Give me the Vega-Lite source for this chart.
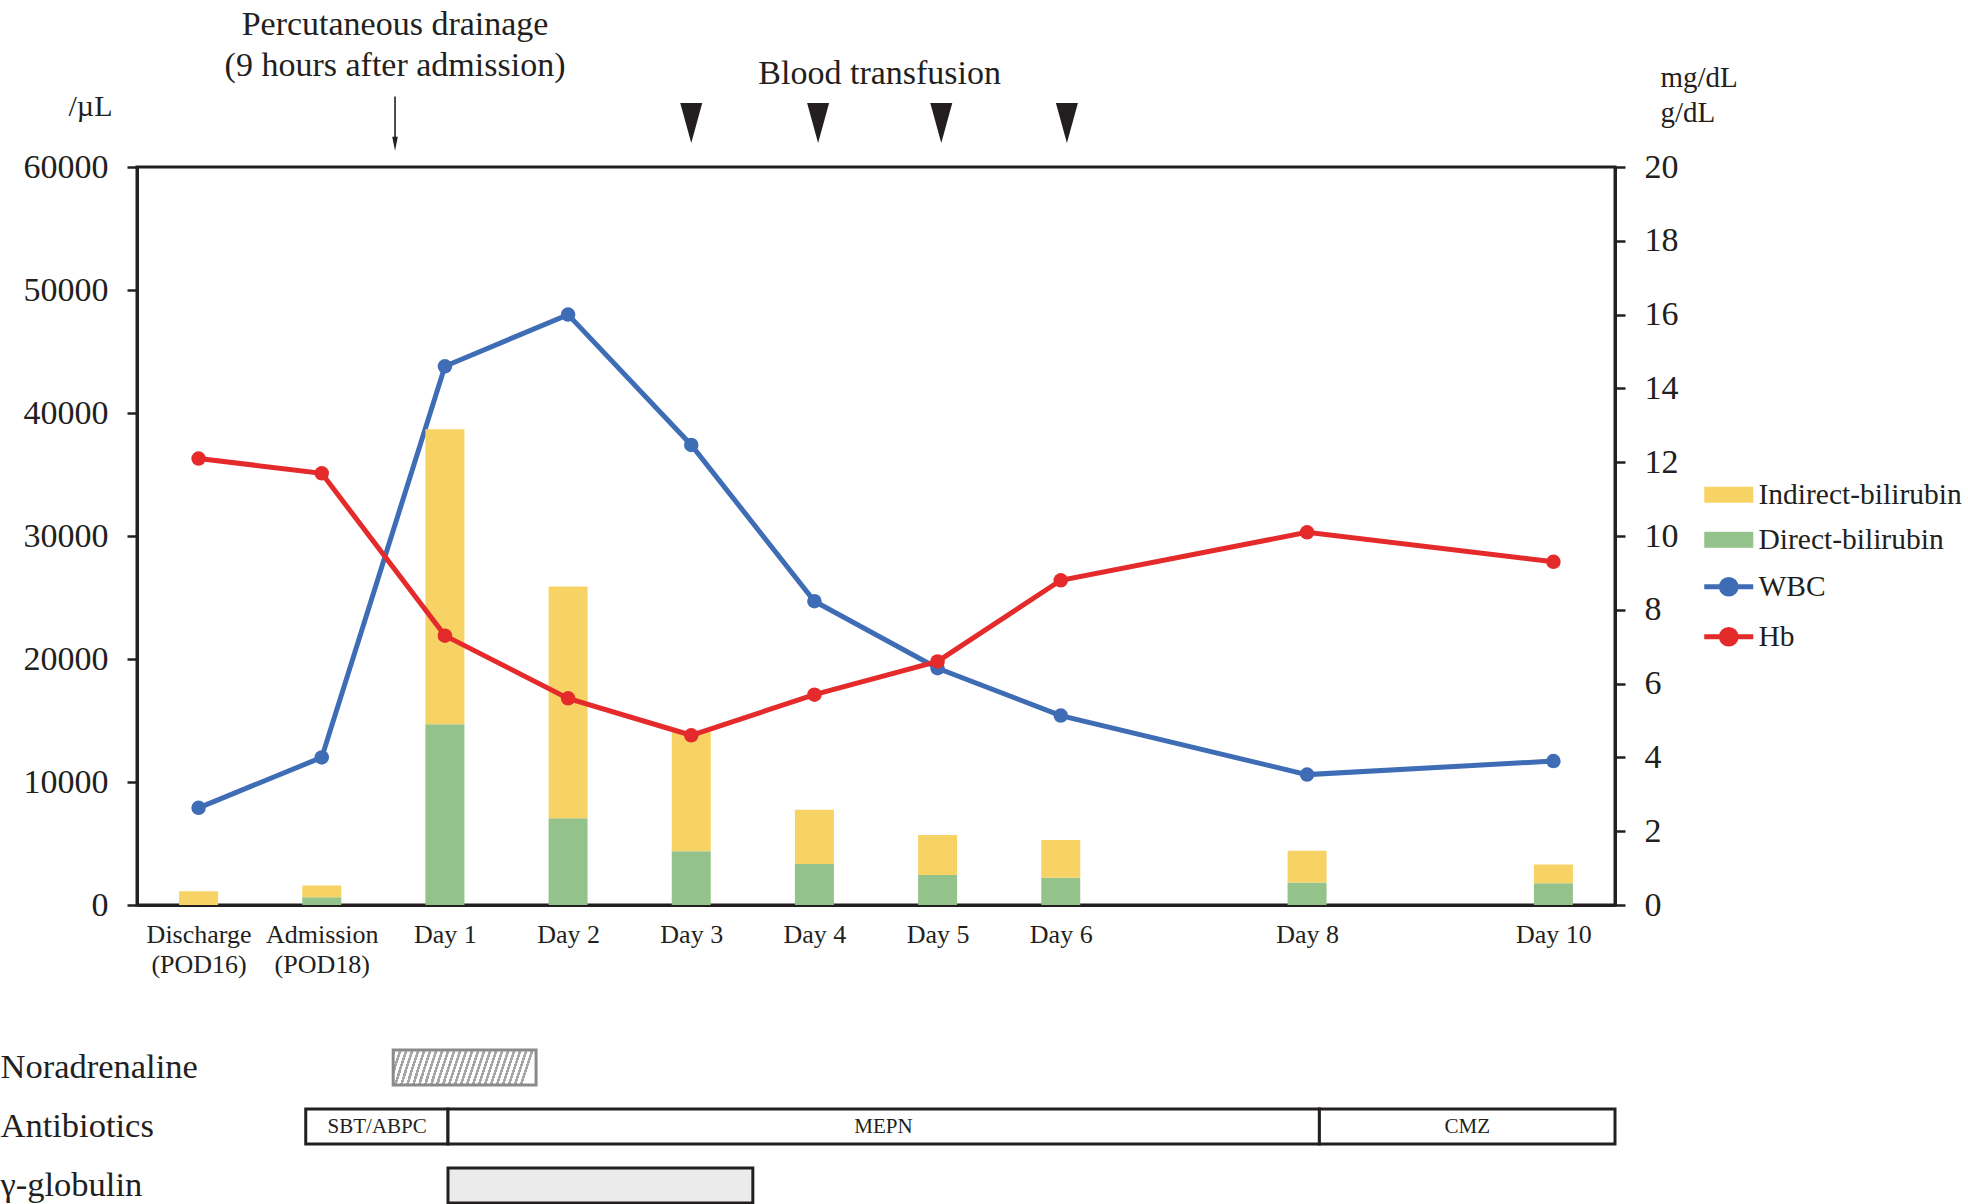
{
  "$schema": "https://vega.github.io/schema/vega-lite/v6.json",
  "padding": {"left": 0, "top": 6, "right": 0, "bottom": 0},
  "background": "white",
  "config": {
    "font": "Liberation Serif",
    "view": {"stroke": "#231f20", "strokeWidth": 3},
    "axis": {"labelFont": "Liberation Serif", "titleFont": "Liberation Serif", "labelColor": "#231f20", "titleColor": "#231f20", "domainColor": "#231f20", "tickColor": "#231f20", "grid": false, "labelLimit": 400, "titleFontWeight": "normal"},
    "text": {"font": "Liberation Serif", "color": "#231f20"}
  },
  "datasets": {
    "labs": [
      {"day": -1, "WBC": 7900, "Hb": 12.1},
      {"day": 0, "WBC": 12000, "Hb": 11.7},
      {"day": 1, "WBC": 43800, "Hb": 7.3},
      {"day": 2, "WBC": 48000, "Hb": 5.6},
      {"day": 3, "WBC": 37400, "Hb": 4.6},
      {"day": 4, "WBC": 24700, "Hb": 5.7},
      {"day": 5, "WBC": 19250, "Hb": 6.6},
      {"day": 6, "WBC": 15400, "Hb": 8.8},
      {"day": 8, "WBC": 10600, "Hb": 10.1},
      {"day": 10, "WBC": 11700, "Hb": 9.3}
    ],
    "bilirubin": [
      {"day": -1, "type": "Direct-bilirubin", "mg": 0},
      {"day": -1, "type": "Indirect-bilirubin", "mg": 0.37},
      {"day": 0, "type": "Direct-bilirubin", "mg": 0.21},
      {"day": 0, "type": "Indirect-bilirubin", "mg": 0.32},
      {"day": 1, "type": "Direct-bilirubin", "mg": 4.9},
      {"day": 1, "type": "Indirect-bilirubin", "mg": 7.99},
      {"day": 2, "type": "Direct-bilirubin", "mg": 2.35},
      {"day": 2, "type": "Indirect-bilirubin", "mg": 6.28},
      {"day": 3, "type": "Direct-bilirubin", "mg": 1.46},
      {"day": 3, "type": "Indirect-bilirubin", "mg": 3.24},
      {"day": 4, "type": "Direct-bilirubin", "mg": 1.11},
      {"day": 4, "type": "Indirect-bilirubin", "mg": 1.47},
      {"day": 5, "type": "Direct-bilirubin", "mg": 0.81},
      {"day": 5, "type": "Indirect-bilirubin", "mg": 1.09},
      {"day": 6, "type": "Direct-bilirubin", "mg": 0.74},
      {"day": 6, "type": "Indirect-bilirubin", "mg": 1.02},
      {"day": 8, "type": "Direct-bilirubin", "mg": 0.61},
      {"day": 8, "type": "Indirect-bilirubin", "mg": 0.86},
      {"day": 10, "type": "Direct-bilirubin", "mg": 0.59},
      {"day": 10, "type": "Indirect-bilirubin", "mg": 0.51}
    ],
    "transfusion": [{"day": 3}, {"day": 4.03}, {"day": 5.03}, {"day": 6.05}],
    "drainage": [{"day": 0.595, "line1": "Percutaneous drainage", "line2": "(9 hours after admission)"}],
    "transfusionNote": [{"day": 4.53, "note": "Blood transfusion"}],
    "therapy": [
      {"row": "Noradrenaline", "start": 0.58, "end": 1.74},
      {"row": "Antibiotics", "start": -0.13, "end": 1.025, "label": "SBT/ABPC", "mid": 0.45},
      {"row": "Antibiotics", "start": 1.025, "end": 8.1, "label": "MEPN", "mid": 4.56},
      {"row": "Antibiotics", "start": 8.1, "end": 10.5, "label": "CMZ", "mid": 9.3},
      {"row": "γ-globulin", "start": 1.025, "end": 3.5}
    ]
  },
  "bounds": "flush",
  "spacing": 133,
  "vconcat": [
    {
      "width": 1478,
      "height": 738,
      "encoding": {
        "x": {
          "field": "day", "type": "quantitative",
          "scale": {"domain": [-1.5, 10.5], "nice": false, "zero": false, "padding": 0},
          "axis": {
            "values": [-1, 0, 1, 2, 3, 4, 5, 6, 8, 10],
            "labelExpr": "datum.value == -1 ? ['Discharge', '(POD16)'] : datum.value == 0 ? ['Admission', '(POD18)'] : 'Day ' + datum.value",
            "ticks": false, "domainWidth": 3, "labelFontSize": 26, "labelPadding": 16, "labelLineHeight": 30,
            "title": null, "labelFlush": false, "labelOverlap": false, "labelBaseline": "top"
          }
        }
      },
      "layer": [
        {
          "data": {"name": "labs"},
          "encoding": {
            "y": {
              "field": "WBC", "type": "quantitative",
              "scale": {"domain": [0, 60000], "nice": false},
              "axis": {
                "orient": "left", "values": [0, 10000, 20000, 30000, 40000, 50000, 60000], "format": "d",
                "labelFontSize": 34, "tickSize": 10, "tickWidth": 2.5, "domainWidth": 3, "labelPadding": 19,
                "title": "/µL", "titleAngle": 0, "titleAlign": "center", "titleBaseline": "alphabetic",
                "titleX": -47, "titleY": -52, "titleFontSize": 30
              }
            },
            "color": {
              "datum": "WBC",
              "scale": {"domain": ["Indirect-bilirubin", "Direct-bilirubin", "WBC", "Hb"], "range": ["#F7D366", "#94C28B", "#3E6DB5", "#E42A2A"]}
            }
          },
          "layer": [
            {"mark": {"type": "line", "strokeWidth": 5}},
            {"mark": {"type": "point", "filled": true, "size": 210, "opacity": 1}}
          ]
        },
        {
          "layer": [
            {
              "data": {"name": "bilirubin"},
              "mark": {"type": "bar", "size": 39},
              "encoding": {
                "y": {
                  "field": "mg", "type": "quantitative", "stack": "zero",
                  "scale": {"domain": [0, 20], "nice": false},
                  "axis": {
                    "orient": "right", "values": [0, 2, 4, 6, 8, 10, 12, 14, 16, 18, 20],
                    "labelFontSize": 34, "tickSize": 10, "tickWidth": 2.5, "domainWidth": 3, "labelPadding": 19,
                    "title": ["mg/dL", "g/dL"], "titleAngle": 0, "titleAlign": "left", "titleBaseline": "alphabetic",
                    "titleX": 45, "titleY": -81, "titleFontSize": 29, "titleLineHeight": 35
                  }
                },
                "color": {
                  "field": "type", "type": "nominal",
                  "scale": {"domain": ["Indirect-bilirubin", "Direct-bilirubin", "WBC", "Hb"], "range": ["#F7D366", "#94C28B", "#3E6DB5", "#E42A2A"]},
                  "legend": {
                    "orient": "none", "legendX": 1577, "legendY": 313, "title": null,
                    "labelFontSize": 29.5, "labelFont": "Liberation Serif", "labelColor": "#231f20", "labelLimit": 400,
                    "symbolSize": 2401, "labelOffset": 15, "rowPadding": 14, "padding": 0,
                    "symbolType": "M-1,-0.33H1V0.33H-1Z",
                    "encoding": {
                      "symbols": {
                        "shape": {"value": {"expr": "datum.value == 'WBC' || datum.value == 'Hb' ? 'M-1,0H1M0.3,0A0.3,0.3 0 1,1 -0.3,0A0.3,0.3 0 1,1 0.3,0Z' : 'M-1,-0.33H1V0.33H-1Z'"}},
                        "fill": {"value": {"expr": "datum.value == 'Indirect-bilirubin' ? '#F7D366' : datum.value == 'Direct-bilirubin' ? '#94C28B' : datum.value == 'WBC' ? '#3E6DB5' : '#E42A2A'"}},
                        "stroke": {"value": {"expr": "datum.value == 'Indirect-bilirubin' ? '#F7D366' : datum.value == 'Direct-bilirubin' ? '#94C28B' : datum.value == 'WBC' ? '#3E6DB5' : '#E42A2A'"}},
                        "strokeWidth": {"value": {"expr": "datum.value == 'WBC' || datum.value == 'Hb' ? 5 : 0"}},
                        "opacity": {"value": 1}
                      }
                    }
                  }
                },
                "order": {"field": "type", "sort": "ascending"}
              }
            },
            {
              "data": {"name": "labs"},
              "encoding": {
                "y": {"field": "Hb", "type": "quantitative", "scale": {"domain": [0, 20], "nice": false}},
                "color": {
                  "datum": "Hb",
                  "scale": {"domain": ["Indirect-bilirubin", "Direct-bilirubin", "WBC", "Hb"], "range": ["#F7D366", "#94C28B", "#3E6DB5", "#E42A2A"]}
                }
              },
              "layer": [
                {"mark": {"type": "line", "strokeWidth": 5}},
                {"mark": {"type": "point", "filled": true, "size": 210, "opacity": 1}}
              ]
            },
            {
              "data": {"name": "transfusion"},
              "mark": {"type": "point", "shape": "M-0.55,-1L0.55,-1L0,1Z", "size": 1600, "filled": true, "color": "#231f20", "opacity": 1},
              "encoding": {"y": {"datum": 21.19, "scale": {"domain": [0, 20], "nice": false}}}
            },
            {
              "data": {"name": "drainage"},
              "mark": {"type": "rule", "strokeWidth": 1.6, "color": "#231f20"},
              "encoding": {
                "y": {"datum": 21.91, "scale": {"domain": [0, 20], "nice": false}},
                "y2": {"datum": 20.77}
              }
            },
            {
              "data": {"name": "drainage"},
              "mark": {"type": "point", "shape": "M-0.4,-1L0.4,-1L0,1Z", "size": 196, "filled": true, "color": "#231f20", "opacity": 1},
              "encoding": {"y": {"datum": 20.63, "scale": {"domain": [0, 20], "nice": false}}}
            },
            {
              "data": {"name": "drainage"},
              "mark": {"type": "text", "fontSize": 34, "align": "center", "baseline": "middle", "color": "#231f20"},
              "encoding": {
                "y": {"datum": 23.84, "scale": {"domain": [0, 20], "nice": false}},
                "text": {"field": "line1"}
              }
            },
            {
              "data": {"name": "drainage"},
              "mark": {"type": "text", "fontSize": 34, "align": "center", "baseline": "middle", "color": "#231f20"},
              "encoding": {
                "y": {"datum": 22.75, "scale": {"domain": [0, 20], "nice": false}},
                "text": {"field": "line2"}
              }
            },
            {
              "data": {"name": "transfusionNote"},
              "mark": {"type": "text", "fontSize": 34, "align": "center", "baseline": "middle", "color": "#231f20"},
              "encoding": {
                "y": {"datum": 22.52, "scale": {"domain": [0, 20], "nice": false}},
                "text": {"field": "note"}
              }
            }
          ]
        }
      ],
      "resolve": {"scale": {"y": "independent"}}
    },
    {
      "width": 1478,
      "height": 177,
      "view": {"stroke": null},
      "data": {"name": "therapy"},
      "encoding": {
        "y": {
          "field": "row", "type": "nominal",
          "scale": {"domain": ["Noradrenaline", "Antibiotics", "γ-globulin"], "paddingInner": 0.407, "paddingOuter": 0.2035},
          "axis": {"labelAlign": "left", "labelPadding": 137, "ticks": false, "tickSize": 0, "domain": false, "labelFontSize": 34.5, "title": null, "labelBaseline": "middle", "labelLimit": 400}
        }
      },
      "layer": [
        {
          "transform": [{"filter": "datum.row == 'Noradrenaline'"}],
          "mark": {
            "type": "rect", "stroke": "#8a8a8a", "strokeWidth": 3,
            "fill": {
              "gradient": "linear", "x1": 0, "y1": 0, "x2": 1, "y2": 0.08,
              "stops": [
                {"offset": 0, "color": "#a6a6a6"}, {"offset": 0.01875, "color": "#a6a6a6"}, {"offset": 0.01875, "color": "#ffffff"}, {"offset": 0.04167, "color": "#ffffff"},
                {"offset": 0.04167, "color": "#a6a6a6"}, {"offset": 0.06042, "color": "#a6a6a6"}, {"offset": 0.06042, "color": "#ffffff"}, {"offset": 0.08333, "color": "#ffffff"},
                {"offset": 0.08333, "color": "#a6a6a6"}, {"offset": 0.10208, "color": "#a6a6a6"}, {"offset": 0.10208, "color": "#ffffff"}, {"offset": 0.125, "color": "#ffffff"},
                {"offset": 0.125, "color": "#a6a6a6"}, {"offset": 0.14375, "color": "#a6a6a6"}, {"offset": 0.14375, "color": "#ffffff"}, {"offset": 0.16667, "color": "#ffffff"},
                {"offset": 0.16667, "color": "#a6a6a6"}, {"offset": 0.18542, "color": "#a6a6a6"}, {"offset": 0.18542, "color": "#ffffff"}, {"offset": 0.20833, "color": "#ffffff"},
                {"offset": 0.20833, "color": "#a6a6a6"}, {"offset": 0.22708, "color": "#a6a6a6"}, {"offset": 0.22708, "color": "#ffffff"}, {"offset": 0.25, "color": "#ffffff"},
                {"offset": 0.25, "color": "#a6a6a6"}, {"offset": 0.26875, "color": "#a6a6a6"}, {"offset": 0.26875, "color": "#ffffff"}, {"offset": 0.29167, "color": "#ffffff"},
                {"offset": 0.29167, "color": "#a6a6a6"}, {"offset": 0.31042, "color": "#a6a6a6"}, {"offset": 0.31042, "color": "#ffffff"}, {"offset": 0.33333, "color": "#ffffff"},
                {"offset": 0.33333, "color": "#a6a6a6"}, {"offset": 0.35208, "color": "#a6a6a6"}, {"offset": 0.35208, "color": "#ffffff"}, {"offset": 0.375, "color": "#ffffff"},
                {"offset": 0.375, "color": "#a6a6a6"}, {"offset": 0.39375, "color": "#a6a6a6"}, {"offset": 0.39375, "color": "#ffffff"}, {"offset": 0.41667, "color": "#ffffff"},
                {"offset": 0.41667, "color": "#a6a6a6"}, {"offset": 0.43542, "color": "#a6a6a6"}, {"offset": 0.43542, "color": "#ffffff"}, {"offset": 0.45833, "color": "#ffffff"},
                {"offset": 0.45833, "color": "#a6a6a6"}, {"offset": 0.47708, "color": "#a6a6a6"}, {"offset": 0.47708, "color": "#ffffff"}, {"offset": 0.5, "color": "#ffffff"},
                {"offset": 0.5, "color": "#a6a6a6"}, {"offset": 0.51875, "color": "#a6a6a6"}, {"offset": 0.51875, "color": "#ffffff"}, {"offset": 0.54167, "color": "#ffffff"},
                {"offset": 0.54167, "color": "#a6a6a6"}, {"offset": 0.56042, "color": "#a6a6a6"}, {"offset": 0.56042, "color": "#ffffff"}, {"offset": 0.58333, "color": "#ffffff"},
                {"offset": 0.58333, "color": "#a6a6a6"}, {"offset": 0.60208, "color": "#a6a6a6"}, {"offset": 0.60208, "color": "#ffffff"}, {"offset": 0.625, "color": "#ffffff"},
                {"offset": 0.625, "color": "#a6a6a6"}, {"offset": 0.64375, "color": "#a6a6a6"}, {"offset": 0.64375, "color": "#ffffff"}, {"offset": 0.66667, "color": "#ffffff"},
                {"offset": 0.66667, "color": "#a6a6a6"}, {"offset": 0.68542, "color": "#a6a6a6"}, {"offset": 0.68542, "color": "#ffffff"}, {"offset": 0.70833, "color": "#ffffff"},
                {"offset": 0.70833, "color": "#a6a6a6"}, {"offset": 0.72708, "color": "#a6a6a6"}, {"offset": 0.72708, "color": "#ffffff"}, {"offset": 0.75, "color": "#ffffff"},
                {"offset": 0.75, "color": "#a6a6a6"}, {"offset": 0.76875, "color": "#a6a6a6"}, {"offset": 0.76875, "color": "#ffffff"}, {"offset": 0.79167, "color": "#ffffff"},
                {"offset": 0.79167, "color": "#a6a6a6"}, {"offset": 0.81042, "color": "#a6a6a6"}, {"offset": 0.81042, "color": "#ffffff"}, {"offset": 0.83333, "color": "#ffffff"},
                {"offset": 0.83333, "color": "#a6a6a6"}, {"offset": 0.85208, "color": "#a6a6a6"}, {"offset": 0.85208, "color": "#ffffff"}, {"offset": 0.875, "color": "#ffffff"},
                {"offset": 0.875, "color": "#a6a6a6"}, {"offset": 0.89375, "color": "#a6a6a6"}, {"offset": 0.89375, "color": "#ffffff"}, {"offset": 0.91667, "color": "#ffffff"},
                {"offset": 0.91667, "color": "#a6a6a6"}, {"offset": 0.93542, "color": "#a6a6a6"}, {"offset": 0.93542, "color": "#ffffff"}, {"offset": 0.95833, "color": "#ffffff"},
                {"offset": 0.95833, "color": "#a6a6a6"}, {"offset": 0.97708, "color": "#a6a6a6"}, {"offset": 0.97708, "color": "#ffffff"}, {"offset": 1, "color": "#ffffff"}
              ]
            }
          },
          "encoding": {
            "x": {"field": "start", "type": "quantitative", "scale": {"domain": [-1.5, 10.5], "nice": false, "zero": false, "padding": 0}, "axis": null},
            "x2": {"field": "end"}
          }
        },
        {
          "transform": [{"filter": "datum.row == 'Antibiotics'"}],
          "mark": {"type": "rect", "fill": "white", "stroke": "#231f20", "strokeWidth": 3},
          "encoding": {
            "x": {"field": "start", "type": "quantitative", "scale": {"domain": [-1.5, 10.5], "nice": false, "zero": false, "padding": 0}, "axis": null},
            "x2": {"field": "end"}
          }
        },
        {
          "transform": [{"filter": "datum.row == 'γ-globulin'"}],
          "mark": {"type": "rect", "fill": "#ebebeb", "stroke": "#231f20", "strokeWidth": 3},
          "encoding": {
            "x": {"field": "start", "type": "quantitative", "scale": {"domain": [-1.5, 10.5], "nice": false, "zero": false, "padding": 0}, "axis": null},
            "x2": {"field": "end"}
          }
        },
        {
          "transform": [{"filter": "datum.label != null"}],
          "mark": {"type": "text", "fontSize": 21, "align": "center", "baseline": "middle", "color": "#231f20"},
          "encoding": {
            "x": {"field": "mid", "type": "quantitative", "scale": {"domain": [-1.5, 10.5], "nice": false, "zero": false, "padding": 0}, "axis": null},
            "text": {"field": "label"}
          }
        }
      ]
    }
  ]
}
